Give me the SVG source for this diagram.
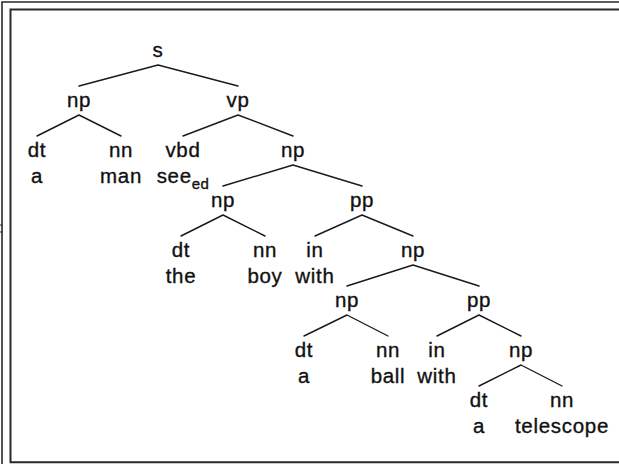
<svg xmlns="http://www.w3.org/2000/svg" width="619" height="464" viewBox="0 0 619 464">
<style>
  text { font-family: "Liberation Sans", Arial, Helvetica, sans-serif; font-size: 20.5px; fill: #111; stroke: #111; stroke-width: 0.35; text-anchor: middle; letter-spacing: 0.7px; }
  .sub { font-size: 15px; letter-spacing: 0.4px; }
  .edge { stroke: #1a1a1a; stroke-width: 1.4; fill: none; stroke-linecap: round; }
  .frame { fill: none; stroke: #2a2a2a; }
</style>
<rect x="0" y="0" width="619" height="464" fill="#ffffff"/>
<g id="frame">
  <path class="frame" stroke-width="1.6" d="M2,470 V2 H625"/>
  <path class="frame" stroke-width="2" d="M625,9.5 H10.5 V462.3 H625"/>
  <path class="frame" stroke-width="1" d="M0,225 H3 M0,232 H3"/>
</g>
<g id="connectors">
  <path class="edge" d="M158,65 L79,86 M158,65 L238,86"/>
  <path class="edge" d="M79,115 L37,136 M79,115 L121,136"/>
  <path class="edge" d="M238,115 L183,136 M238,115 L293,136"/>
  <path class="edge" d="M293,165 L223,186 M293,165 L362,186"/>
  <path class="edge" d="M223,215 L181,236 M223,215 L265,236"/>
  <path class="edge" d="M362,215 L315,236 M362,215 L413,236"/>
  <path class="edge" d="M413,265 L347,286 M413,265 L479,286"/>
  <path class="edge" d="M347,315 L304,336 M347,315 L388,336"/>
  <path class="edge" d="M479,315 L437,336 M479,315 L521,336"/>
  <path class="edge" d="M521,365 L479,386 M521,365 L562,386"/>
</g>
<g id="n_s"><text x="158" y="57">s</text></g>
<g id="n_np1"><text x="79" y="107">np</text></g>
<g id="n_vp"><text x="238" y="107">vp</text></g>
<g id="n_dt1"><text x="37" y="157">dt</text><text x="37" y="183">a</text></g>
<g id="n_nn1"><text x="121" y="157">nn</text><text x="121" y="183">man</text></g>
<g id="n_vbd"><text x="183" y="157">vbd</text><text x="183" y="183">see<tspan class="sub" dy="6">ed</tspan></text></g>
<g id="n_np2"><text x="293" y="157">np</text></g>
<g id="n_np3"><text x="223" y="207">np</text></g>
<g id="n_pp1"><text x="362" y="207">pp</text></g>
<g id="n_dt2"><text x="181" y="257">dt</text><text x="181" y="283">the</text></g>
<g id="n_nn2"><text x="265" y="257">nn</text><text x="265" y="283">boy</text></g>
<g id="n_in1"><text x="315" y="257">in</text><text x="315" y="283">with</text></g>
<g id="n_np4"><text x="413" y="257">np</text></g>
<g id="n_np5"><text x="347" y="307">np</text></g>
<g id="n_pp2"><text x="479" y="307">pp</text></g>
<g id="n_dt3"><text x="304" y="357">dt</text><text x="304" y="383">a</text></g>
<g id="n_nn3"><text x="388" y="357">nn</text><text x="388" y="383">ball</text></g>
<g id="n_in2"><text x="437" y="357">in</text><text x="437" y="383">with</text></g>
<g id="n_np6"><text x="521" y="357">np</text></g>
<g id="n_dt4"><text x="479" y="407">dt</text><text x="479" y="433">a</text></g>
<g id="n_nn4"><text x="562" y="407">nn</text><text x="562" y="433">telescope</text></g>
</svg>
